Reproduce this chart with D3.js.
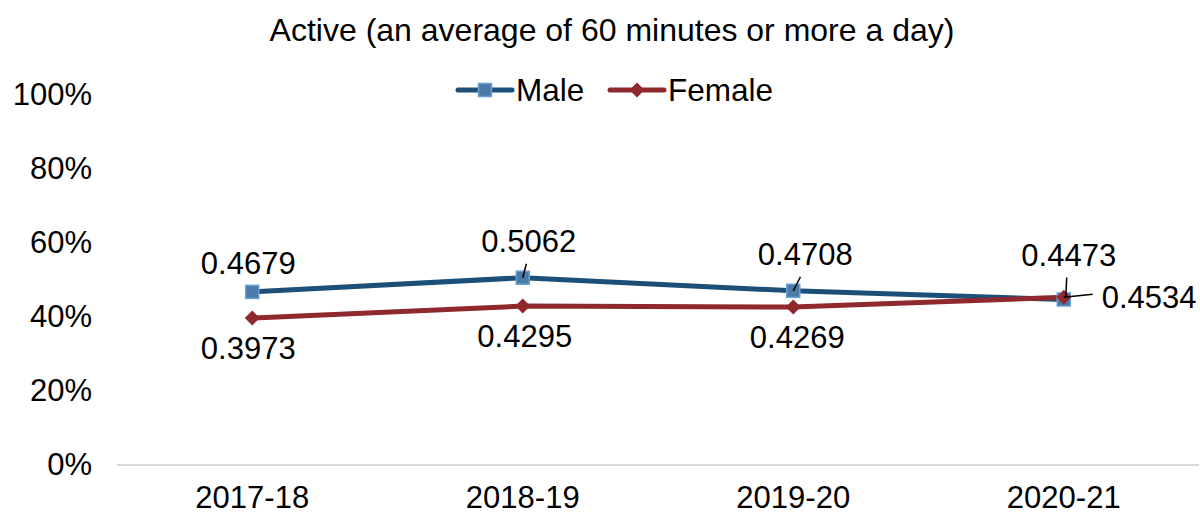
<!DOCTYPE html>
<html>
<head>
<meta charset="utf-8">
<script src="https://cdn.jsdelivr.net/npm/d3@7"></script>
<style>
  html, body { margin: 0; padding: 0; background: #fff; }
  svg { display: block; font-family: "Liberation Sans", Arial, sans-serif; }
</style>
</head>
<body>
<svg id="chart" width="1200" height="516"></svg>
<script>
// Chart data
const categories = ["2017-18", "2018-19", "2019-20", "2020-21"];
const maleValues = [0.4679, 0.5062, 0.4708, 0.4473];
const femaleValues = [0.3973, 0.4295, 0.4269, 0.4534];
const yTicks = [0, 0.2, 0.4, 0.6, 0.8, 1.0];
const seriesNames = ["Male", "Female"];
const chartTitle = "Active (an average of 60 minutes or more a day)";

// Label placement relative to each point: [dx, dy, leader]
const maleLabelOffsets = [[-4, -28, false], [6, -36, true], [12, -36, true], [5, -44, "v"]];
const femaleLabelOffsets = [[-4, 31, false], [2, 30, false], [4, 30, false], [38, 0, "h"]];

const W = 1200, H = 516;
const margin = { left: 117, right: 1, top: 95, bottom: 51 };
const svg = d3.select("#chart");

const x = d3.scaleBand().domain(categories).range([margin.left, W - margin.right]);
const y = d3.scaleLinear().domain([0, 1]).range([H - margin.bottom, margin.top]);
const cx = c => x(c) + x.bandwidth() / 2;

const FS = 31;
const maleColor = "#1c5078", maleFill = "#4a7aa6", maleStroke = "#6a9fd6";
const femaleColor = "#8f292d";

// Title
svg.append("text").attr("x", 612).attr("y", 30).attr("text-anchor", "middle")
  .attr("dominant-baseline", "central").attr("font-size", 32).attr("fill", "#000").text(chartTitle);

// Y axis labels (no axis line)
const yAxis = d3.axisLeft(y).tickValues(yTicks).tickFormat(d3.format(".0%")).tickSize(0).tickPadding(0);
const gy = svg.append("g").attr("transform", `translate(92,0)`).call(yAxis);
gy.select(".domain").remove();
gy.selectAll("text").attr("font-size", FS).attr("fill", "#000").attr("font-family", "Liberation Sans, Arial, sans-serif");

// Baseline
svg.append("line").attr("x1", margin.left).attr("x2", W - margin.right)
  .attr("y1", y(0)).attr("y2", y(0)).attr("stroke", "#d9d9d9").attr("stroke-width", 2);

// X axis labels
const xAxis = d3.axisBottom(x).tickSize(0).tickPadding(0);
const gx = svg.append("g").attr("transform", `translate(0,${y(0) + 21})`).call(xAxis);
gx.select(".domain").remove();
gx.selectAll("text").attr("font-size", FS).attr("fill", "#000").attr("font-family", "Liberation Sans, Arial, sans-serif");

const line = d3.line().x((d, i) => cx(categories[i])).y(d => y(d));

// Series lines
svg.append("path").datum(maleValues).attr("d", line).attr("fill", "none")
  .attr("stroke", maleColor).attr("stroke-width", 5).attr("stroke-linejoin", "round");
svg.append("path").datum(femaleValues).attr("d", line).attr("fill", "none")
  .attr("stroke", femaleColor).attr("stroke-width", 5).attr("stroke-linejoin", "round");

// Markers
const sq = 13;
function square(g, px, py) {
  g.append("rect").attr("x", px - sq / 2).attr("y", py - sq / 2).attr("width", sq).attr("height", sq)
    .attr("fill", maleFill).attr("stroke", maleStroke).attr("stroke-width", 1.5);
}
function diamond(g, px, py) {
  const r = 7.5;
  g.append("path").attr("d", `M${px},${py - r}L${px + r},${py}L${px},${py + r}L${px - r},${py}Z`)
    .attr("fill", femaleColor);
}
const marks = svg.append("g");
maleValues.forEach((v, i) => square(marks, cx(categories[i]), y(v)));
femaleValues.forEach((v, i) => diamond(marks, cx(categories[i]), y(v)));

// Data labels with leader lines
const labels = svg.append("g");
function addLabels(vals, offs) {
  vals.forEach((v, i) => {
    const px = cx(categories[i]), py = y(v);
    const [dx, dy, leader] = offs[i];
    let anchor = "middle";
    if (leader === "h") anchor = "start";
    const lx = px + dx, ly = py + dy;
    if (leader === true) {
      labels.append("line").attr("x1", px).attr("y1", py).attr("x2", px + dx * 0.6).attr("y2", py - 14)
        .attr("stroke", "#000").attr("stroke-width", 1.5);
    } else if (leader === "v") {
      labels.append("line").attr("x1", px + 2).attr("y1", py - 2).attr("x2", px + 3).attr("y2", py - 22)
        .attr("stroke", "#000").attr("stroke-width", 1.5);
    } else if (leader === "h") {
      labels.append("line").attr("x1", px).attr("y1", py).attr("x2", px + 29).attr("y2", py - 3)
        .attr("stroke", "#000").attr("stroke-width", 1.5);
    }
    labels.append("text").attr("x", lx).attr("y", ly).attr("text-anchor", anchor)
      .attr("dominant-baseline", "central").attr("font-size", FS).attr("fill", "#000").text(v.toFixed(4));
  });
}
addLabels(maleValues, maleLabelOffsets);
addLabels(femaleValues, femaleLabelOffsets);

// Legend
const legend = svg.append("g");
const legendItems = [
  { name: seriesNames[0], color: maleColor, x0: 458, mark: square },
  { name: seriesNames[1], color: femaleColor, x0: 610, mark: diamond }
];
legendItems.forEach(it => {
  const ly = 90;
  legend.append("line").attr("x1", it.x0).attr("x2", it.x0 + 54).attr("y1", ly).attr("y2", ly)
    .attr("stroke", it.color).attr("stroke-width", 5).attr("stroke-linecap", "round");
  it.mark(legend, it.x0 + 27, ly);
  legend.append("text").attr("x", it.x0 + 58).attr("y", ly).attr("dominant-baseline", "central")
    .attr("font-size", FS + 0.5).attr("fill", "#000").text(it.name);
});
</script>
</body>
</html>
